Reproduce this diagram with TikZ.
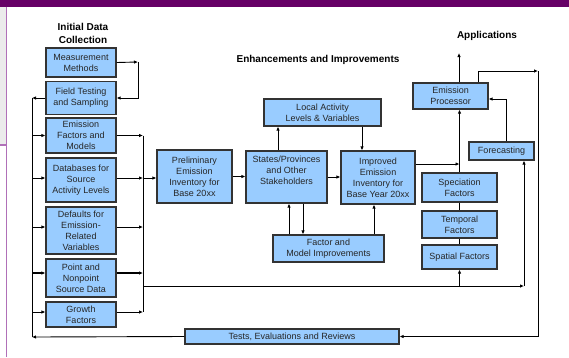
\documentclass[tikz,border=0pt]{standalone}
\usepackage{fontspec}
\setmainfont{Liberation Sans}
\usetikzlibrary{arrows.meta}
\definecolor{boxblue}{HTML}{99CCFF}
\definecolor{barpurple}{HTML}{660066}
\definecolor{linepurple}{HTML}{B070B8}
\definecolor{panelgray}{HTML}{EBEBEB}
\tikzset{
  box/.style={draw=black!80, line width=1.2pt, fill=boxblue, align=center,
    inner sep=0pt, font=\fontsize{9}{11}\selectfont, text=black!85},
  conn/.style={line width=0.9pt, black},
  arr/.style={conn, -{Latex[length=4pt,width=3.5pt]}},
  ttl/.style={font=\fontsize{10}{13}\selectfont\bfseries, align=center}
}
\begin{document}
\begin{tikzpicture}[x=1pt,y=-1pt]
\useasboundingbox (0,0) rectangle (569,357);
% frame
\fill[barpurple] (0,0) rectangle (569,6.5);
\fill[panelgray] (0,6.5) rectangle (6,145);
\draw[linepurple, line width=1.2pt] (6.5,6.5) -- (6.5,357);
\draw[linepurple, line width=1.2pt] (0,145) -- (6.5,145);

% titles
\node[ttl] (t1) at (83,33.5) {Initial Data\\Collection};
\node[ttl] (t2) at (318,60) {Enhancements and Improvements};
\node[ttl] (t3) at (487,36) {Applications};

% left column
\node[box, minimum width=70, minimum height=29] (meas) at (81,62.5) {Measurement\\Methods};
\node[box, minimum width=70, minimum height=33] (field) at (81,98) {Field Testing\\and Sampling};
\node[box, minimum width=70, minimum height=35] (emf) at (81,135.5) {Emission\\Factors and\\Models};
\node[box, minimum width=70, minimum height=44] (db) at (81,180) {Databases for\\Source\\Activity Levels};
\node[box, minimum width=70, minimum height=47] (def) at (81,230.5) {Defaults for\\Emission-\\Related\\Variables};
\node[box, minimum width=70, minimum height=38] (pt) at (81,278) {Point and\\Nonpoint\\Source Data};
\node[box, minimum width=70, minimum height=25] (gr) at (81,314.5) {Growth\\Factors};

% middle
\node[box, minimum width=75, minimum height=53] (prelim) at (194.5,176.5) {Preliminary\\Emission\\Inventory for\\Base 20xx};
\node[box, minimum width=81, minimum height=52] (states) at (286.5,177) {States/Provinces\\and Other\\Stakeholders\\\strut};
\node[box, minimum width=74, minimum height=53] (improved) at (378,177.5) {Improved\\Emission\\Inventory for\\Base Year 20xx};
\node[box, minimum width=117, minimum height=27] (local) at (322.5,112.5) {Local Activity\\Levels \& Variables};
\node[box, minimum width=111, minimum height=27] (factor) at (328.5,248.5) {Factor and\\Model Improvements};

% right
\node[box, minimum width=75, minimum height=26] (ep) at (450.5,96) {Emission\\Processor};
\node[box, minimum width=65, minimum height=18] (fc) at (501.5,151) {Forecasting};
\node[box, minimum width=75, minimum height=29] (spec) at (459.5,187.5) {Speciation\\Factors};
\node[box, minimum width=75, minimum height=27] (temp) at (459.5,224.5) {Temporal\\Factors};
\node[box, minimum width=75, minimum height=24] (spat) at (459.5,257) {Spatial Factors};
\node[box, minimum width=214, minimum height=15] (tests) at (292,336.5) {Tests, Evaluations and Reviews};

% coordinates
\coordinate (mR) at (138,62);
\coordinate (LBtop) at (32,98);
\coordinate (LBbot) at (32,337);
\coordinate (RC) at (143,0);
\coordinate (RCtop) at (143,135.5);
\coordinate (RCbot) at (143,312);
\coordinate (RCmid) at (143,286);
\coordinate (BR) at (524,286);
\coordinate (apTop) at (459,53);
\coordinate (TR) at (538,71);
\coordinate (dbW) at ([yshift=2pt]db.west);
\coordinate (dbE) at ([yshift=2pt]db.east);
\coordinate (defW) at ([yshift=3.5pt]def.west);
\coordinate (defE) at ([yshift=3.5pt]def.east);
\coordinate (ptW) at ([yshift=5pt]pt.west);
\coordinate (ptE) at ([yshift=5pt]pt.east);
\coordinate (grW) at ([yshift=2.5pt]gr.west);
\coordinate (grE) at ([yshift=2.5pt]gr.east);
\coordinate (stN1) at ([xshift=-8.5pt]states.north);
\coordinate (imN1) at ([xshift=-16pt]improved.north);
\coordinate (stS1) at ([xshift=16.5pt]states.south);
\coordinate (stS2) at ([xshift=2.5pt]states.south);
\coordinate (imS1) at ([xshift=-4pt]improved.south);
\coordinate (imE1) at ([yshift=13.5pt]improved.east);
\coordinate (epN1) at ([xshift=27.5pt]ep.north);
\coordinate (epE1) at ([yshift=-3pt]ep.east);
\coordinate (fcN1) at ([xshift=4.5pt]fc.north);

% measurement -> field
\draw[arr] (meas.east) -- (mR);
\draw[arr] (mR) |- (field.east);

% left bus
\draw[arr] (field.west) -- (LBtop);
\draw[conn] (LBtop) -- (LBbot);
\draw[arr] (tests.west) -- (LBbot);
\draw[arr] (LBtop |- emf.west) -- (emf.west);
\draw[arr] (LBtop |- dbW) -- (dbW);
\draw[arr] (LBtop |- defW) -- (defW);
\draw[arr, line width=1.6pt] (LBtop |- ptW) -- (ptW);
\draw[arr] (LBtop |- grW) -- (grW);

% right collector
\draw[arr] (emf.east) -- (emf.east -| RC);
\draw[arr] (dbE) -- (dbE -| RC);
\draw[arr] (defE) -- (defE -| RC);
\draw[arr, line width=1.6pt] (ptE) -- (ptE -| RC);
\draw[arr] (grE) -- (grE -| RC);
\draw[conn] (RCtop) -- (RCbot);
\draw[arr] (dbE -| RC) -- (dbE -| prelim.west);

% bottom feed
\draw[arr] (RCmid) -- (BR);
\draw[arr] (BR) -- (BR |- fc.south);
\draw[arr] (spat.south |- RCmid) -- (spat.south);

% middle connectors
\draw[arr] (prelim.east) -- (prelim.east -| states.west);
\draw[arr] (states.east) -- (states.east -| improved.west);
\draw[arr] (stN1) -- (stN1 |- local.south);
\draw[arr] (imN1 |- local.south) -- (imN1);
\draw[arr] (stS1) -- (stS1 |- factor.north);
\draw[arr] (stS2 |- factor.north) -- (stS2);
\draw[arr] (imS1 |- factor.north) -- (imS1);

% right connectors
\draw[arr] (imE1) -- (imE1 -| spec.north);
\draw[arr] (spec.north) -- (spec.north |- ep.south);
\draw[arr] (apTop |- ep.north) -- (apTop);
\draw[arr] (epN1) |- (TR);
\draw[arr] (TR) |- (tests.east);
\draw[arr] (fcN1) |- (epE1);
\draw[conn] (spec.south) -- (temp.north);
\draw[conn] (temp.south) -- (spat.north);
\end{tikzpicture}
\end{document}
